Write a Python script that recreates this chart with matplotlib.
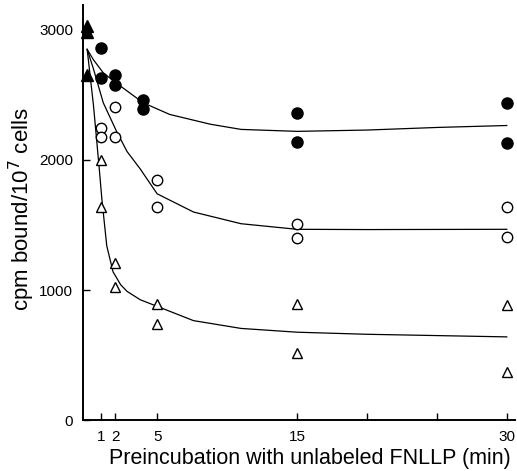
import matplotlib.pyplot as plt

plt.rcParams['font.family'] = ['Liberation Sans', 'DejaVu Sans']

# control (time 0), filled triangles
ctrl_t = [0, 0, 0]
ctrl_y = [3030, 2980, 2650]

# filled circles
fc_t = [1, 1, 2, 2, 4, 4, 15, 15, 30, 30]
fc_y = [2860, 2630, 2655, 2580, 2460, 2395, 2360, 2135, 2440, 2130]

# open circles
oc_t = [1, 1, 2, 2, 5, 5, 15, 15, 30, 30]
oc_y = [2245, 2175, 2410, 2175, 1845, 1640, 1510, 1400, 1635, 1410]

# open triangles
ot_t = [1, 1, 2, 2, 5, 5, 15, 15, 30, 30]
ot_y = [2000, 1640, 1205, 1020, 890, 740, 890, 515, 885, 370]

# hand-drawn fit curves
c1_t = [0, 0.45, 1.15, 2.1, 4, 5.9, 8.8, 11, 15, 20, 25, 30]
c1_y = [2850, 2770, 2670, 2590, 2440, 2350, 2275, 2235, 2220, 2230, 2250, 2265]

c2_t = [0, 0.45, 1.15, 2.1, 2.85, 3.8, 5, 7.6, 11, 15, 20, 30]
c2_y = [2850, 2700, 2440, 2220, 2065, 1930, 1740, 1600, 1510, 1467, 1465, 1467]

c3_t = [0, 0.45, 0.85, 1.05, 1.4, 1.85, 2.4, 2.85, 3.8, 5, 7.6, 11, 15, 20, 30]
c3_y = [2850, 2420, 1950, 1700, 1340, 1140, 1040, 990, 925, 875, 765, 705, 676, 660, 640]

xticks = [1, 2, 5, 15, 20, 25, 30]
xticklabels = ['1', '2', '5', '15', '', '', '30']
yticks = [0, 1000, 2000, 3000]

fig = plt.figure(figsize=(5.17, 4.71), dpi=100)
ax = fig.add_axes([0.1605, 0.108, 0.836, 0.881])

for t, y in [(c1_t, c1_y), (c2_t, c2_y), (c3_t, c3_y)]:
    ax.plot(t, y, color='black', lw=0.9)

ax.plot(ctrl_t, ctrl_y, '^', color='black', ms=8, clip_on=False)
ax.plot(fc_t, fc_y, 'o', color='black', ms=8)
ax.plot(oc_t, oc_y, 'o', mfc='white', mec='black', mew=1.0, ms=7.5)
ax.plot(ot_t, ot_y, '^', mfc='white', mec='black', mew=1.0, ms=7)

ax.set_xlim(-0.3, 30.6)
ax.set_ylim(0, 3190)
ax.set_xticks(xticks)
ax.set_xticklabels(xticklabels)
ax.set_yticks(yticks)
ax.tick_params(direction='in', length=5, width=1, labelsize=11)
ax.tick_params(axis='x', pad=7)
ax.tick_params(axis='y', pad=7)
ax.spines['top'].set_visible(False)
ax.spines['right'].set_visible(False)
ax.spines['left'].set_linewidth(1.4)
ax.spines['bottom'].set_linewidth(1.4)

ax.set_xlabel('Preincubation with unlabeled FNLLP (min)', fontsize=15.5)
ax.set_ylabel('cpm bound/10$^7$ cells', fontsize=16)
ax.xaxis.set_label_coords(0.525, -0.068)
ax.yaxis.set_label_coords(-0.106, 0.508)

fig.savefig('out.png')
